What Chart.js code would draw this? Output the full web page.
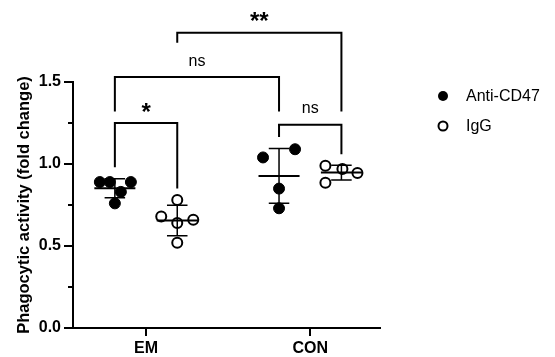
<!DOCTYPE html>
<html><head><meta charset="utf-8">
<script src="https://cdn.jsdelivr.net/npm/chart.js@4/dist/chart.umd.min.js"></script>
<style>html,body{margin:0;padding:0;background:#fff;overflow:hidden}</style>
</head><body>
<canvas id="c" width="555" height="357"></canvas>
<script>
// ---- data ----
const categories = ['EM', 'CON'];
const seriesNames = ['Anti-CD47', 'IgG'];
const antiCD47EM  = [0.89, 0.89, 0.89, 0.83, 0.76];
const antiCD47CON = [1.04, 1.09, 0.85, 0.73];
const igGEM  = [0.78, 0.68, 0.64, 0.66, 0.52];
const igGCON = [0.99, 0.97, 0.945, 0.885];
const yTickValues = [0, 0.5, 1.0, 1.5];
const yTickLabels = ['0.0', '0.5', '1.0', '1.5'];
const yTitle = 'Phagocytic activity (fold change)';
// significance brackets: [group, series] endpoints, bracket top, leg ends, label
const sigLabels  = ['*', 'ns', '**', 'ns'];
const sigFrom    = [[0, 0], [0, 0], [0, 1], [1, 0]];
const sigTo      = [[0, 1], [1, 0], [1, 1], [1, 1]];
const sigTop     = [1.25, 1.53, 1.80, 1.24];
const sigLegFrom = [0.98, 1.32, 1.74, 1.165];
const sigLegTo   = [0.85, 1.32, 1.32, 1.06];

// ---- layout / style ----
const groups = [[antiCD47EM, igGEM], [antiCD47CON, igGCON]]; // [group][series]
const groupPos = i => 1 + 2 * i;
const seriesOffset = [-0.38, 0.38];
const U = 1 / 82; // one pixel in x units (approx)
const jitterPx = [
  [[-15, -5, 16, 6, 0], [0, -16, 0, 16, 0]],
  [[-16, 16, 0, 0], [-16, 1, 16, -16]]
];
const FONT = "'Liberation Sans', Arial, Helvetica, sans-serif";
Chart.defaults.font.family = FONT;
Chart.defaults.color = '#000';

function xOf(g, s) { return groupPos(g) + seriesOffset[s]; }
function mean(a) { return a.reduce((p, c) => p + c, 0) / a.length; }
function sd(a) { const m = mean(a); return Math.sqrt(a.reduce((p, c) => p + (c - m) * (c - m), 0) / (a.length - 1)); }

const datasets = seriesNames.map((name, s) => {
  const pts = [];
  groups.forEach((grp, g) => {
    grp[s].forEach((v, k) => pts.push({ x: xOf(g, s) + jitterPx[g][s][k] * U, y: v }));
  });
  return {
    label: name,
    data: pts,
    pointRadius: s === 0 ? 5.5 : 5,
    pointHoverRadius: 5,
    pointBackgroundColor: s === 0 ? '#000' : 'rgba(0,0,0,0)',
    pointBorderColor: '#000',
    pointBorderWidth: s === 0 ? 1 : 2,
    showLine: false
  };
});

const extras = {
  id: 'extras',
  beforeDatasetsDraw(chart) {
    const { ctx, scales: { x, y } } = chart;
    ctx.save();
    ctx.strokeStyle = '#000';
    groups.forEach((grp, g) => grp.forEach((vals, s) => {
      const cx = xOf(g, s), m = mean(vals), d = sd(vals);
      const px = x.getPixelForValue(cx);
      ctx.lineWidth = 2;
      ctx.beginPath();
      ctx.moveTo(x.getPixelForValue(cx - 0.25), y.getPixelForValue(m));
      ctx.lineTo(x.getPixelForValue(cx + 0.25), y.getPixelForValue(m));
      ctx.stroke();
      ctx.lineWidth = 1.5;
      ctx.beginPath();
      ctx.moveTo(px, y.getPixelForValue(m - d));
      ctx.lineTo(px, y.getPixelForValue(m + d));
      [m - d, m + d].forEach(v => {
        ctx.moveTo(x.getPixelForValue(cx - 0.125), y.getPixelForValue(v));
        ctx.lineTo(x.getPixelForValue(cx + 0.125), y.getPixelForValue(v));
      });
      ctx.stroke();
    }));
    ctx.restore();
  },
  afterDraw(chart) {
    const { ctx, scales: { x, y }, chartArea } = chart;
    ctx.save();
    ctx.strokeStyle = '#000';
    ctx.fillStyle = '#000';
    ctx.lineWidth = 2;
    ctx.beginPath();
    for (let i = 0; i < yTickValues.length - 1; i++) {
      const py = y.getPixelForValue((yTickValues[i] + yTickValues[i + 1]) / 2);
      ctx.moveTo(chartArea.left - 5, py);
      ctx.lineTo(chartArea.left, py);
    }
    ctx.stroke();
    sigLabels.forEach((lab, i) => {
      const x1 = x.getPixelForValue(xOf(sigFrom[i][0], sigFrom[i][1]));
      const x2 = x.getPixelForValue(xOf(sigTo[i][0], sigTo[i][1]));
      const yt = y.getPixelForValue(sigTop[i]);
      ctx.lineWidth = 2;
      ctx.beginPath();
      ctx.moveTo(x1, y.getPixelForValue(sigLegFrom[i]));
      ctx.lineTo(x1, yt);
      ctx.lineTo(x2, yt);
      ctx.lineTo(x2, y.getPixelForValue(sigLegTo[i]));
      ctx.stroke();
      const star = lab.indexOf('*') >= 0;
      ctx.font = star ? 'bold 24px ' + FONT : '16px ' + FONT;
      ctx.textAlign = 'center';
      ctx.textBaseline = 'alphabetic';
      const m = ctx.measureText(lab);
      const cy = yt - 16;
      const base = cy + (m.actualBoundingBoxAscent - m.actualBoundingBoxDescent) / 2;
      ctx.fillText(lab, (x1 + x2) / 2, base);
    });
    const lx = chartArea.right + 63, ly0 = chartArea.top + 14, gap = 30;
    seriesNames.forEach((name, s) => {
      const ly = ly0 + s * gap;
      ctx.beginPath();
      if (s === 0) { ctx.arc(lx, ly, 5, 0, Math.PI * 2); ctx.fill(); }
      else { ctx.lineWidth = 2; ctx.arc(lx, ly, 4.5, 0, Math.PI * 2); ctx.stroke(); }
      ctx.font = '16px ' + FONT;
      ctx.textAlign = 'left';
      ctx.textBaseline = 'middle';
      ctx.fillText(name, lx + 23, ly + 1);
    });
    ctx.restore();
  }
};

new Chart(document.getElementById('c'), {
  type: 'scatter',
  data: { datasets },
  options: {
    responsive: false,
    devicePixelRatio: 1,
    animation: false,
    events: [],
    layout: { padding: { top: 82, right: 175, left: 0, bottom: 0 } },
    plugins: { legend: { display: false }, tooltip: { enabled: false } },
    scales: {
      x: {
        type: 'linear', min: 0.11, max: 3.85,
        afterBuildTicks: s => { s.ticks = categories.map((c, i) => ({ value: groupPos(i) })); },
        afterFit: s => { s.height = 29; },
        ticks: {
          callback: (v, i) => categories[i],
          font: { size: 16, weight: 'bold' }, color: '#000', padding: 3,
          autoSkip: false, maxRotation: 0
        },
        grid: { drawOnChartArea: false, tickLength: 8, color: '#000', lineWidth: 2 },
        border: { color: '#000', width: 2 }
      },
      y: {
        min: 0, max: 1.5,
        afterBuildTicks: s => { s.ticks = yTickValues.map(v => ({ value: v })); },
        afterFit: s => { s.width = 73; },
        ticks: {
          callback: (v, i) => yTickLabels[i],
          font: { size: 16, weight: 'bold' }, color: '#000', padding: 3
        },
        grid: { drawOnChartArea: false, tickLength: 9, color: '#000', lineWidth: 2 },
        border: { color: '#000', width: 2 },
        title: {
          display: true, text: yTitle, color: '#000',
          font: { size: 16.5, weight: 'bold' }, padding: { top: 15, bottom: 0 }
        }
      }
    }
  },
  plugins: [extras]
});
</script>
</body></html>
